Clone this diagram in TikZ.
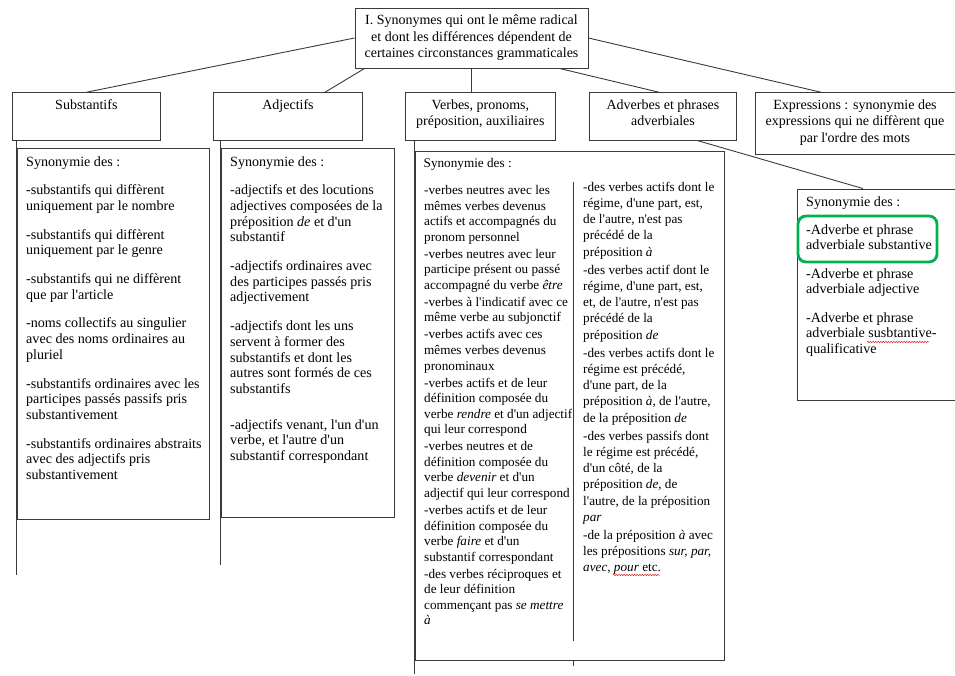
\documentclass[tikz,border=0pt]{standalone}
\usepackage{fontspec}
\setmainfont{Liberation Serif}[Ligatures=TeXOff]
\usetikzlibrary{calc,decorations.pathmorphing}
\definecolor{framegray}{HTML}{3A3A3A}
\definecolor{markgreen}{HTML}{00B050}
\definecolor{spellred}{HTML}{E0201B}
\begin{document}
% multi-line nodes are placed by the baseline of their last line (anchor=base)
\begin{tikzpicture}[x=1pt,y=-1pt,
  frame/.style={draw=framegray, line width=0.9pt, inner sep=0pt},
  rule/.style={draw=framegray, line width=0.9pt},
  headtext/.style={inner sep=0pt, align=center, font=\fontsize{14}{16.6}\selectfont},
  bodytext/.style={inner sep=0pt, align=left, anchor=base west, font=\fontsize{14.1}{15.7}\selectfont},
  verbtext/.style={inner sep=0pt, align=left, anchor=base west, font=\fontsize{13.2}{15.55}\selectfont},
  verbtextb/.style={verbtext, font=\fontsize{13.2}{16.3}\selectfont},
  wavy/.style={draw=spellred, line width=0.5pt, decorate, decoration={snake, amplitude=0.7pt, segment length=2.6pt}},
]
\useasboundingbox (0,0) rectangle (955,675);

% title box
\node[frame, headtext, minimum width=233pt, minimum height=60pt] (top) at (471.5,38)
  {I. Synonymes qui ont le même radical\\et dont les différences dépendent de\\certaines circonstances grammaticales};

% category headers
\node[frame, minimum width=148.7pt, minimum height=47.3pt] (subst) at (86.35,116.35) {};
\node[headtext, anchor=base] (substT) at (86.35,109.3) {Substantifs};
\node[frame, minimum width=149.4pt, minimum height=47.3pt] (adj) at (288,116.35) {};
\node[headtext, anchor=base] (adjT) at (288,109.3) {Adjectifs};
\node[frame, minimum width=149.3pt, minimum height=47.3pt] (verb) at (480.35,116.35) {};
\node[headtext, anchor=base] (verbT) at (480.35,125.9) {Verbes, pronoms,\\préposition, auxiliaires};
\node[frame, minimum width=147.4pt, minimum height=47.3pt] (adv) at (663,116.35) {};
\node[headtext, anchor=base] (advT) at (663,125.9) {Adverbes et phrases\\adverbiales};
\node[frame, minimum width=202pt, minimum height=61.8pt] (expr) at (856,123.6) {};
\node[headtext, anchor=base] (exprT) at (855,142.5) {Expressions : synonymie des\\expressions qui ne diffèrent que\\par l'ordre des mots};

% content boxes
\node[frame, minimum width=191.5pt, minimum height=370.7pt] (substC) at (113.25,333.65) {};
\node[frame, minimum width=172.3pt, minimum height=368.7pt] (adjC) at (307.85,332.65) {};
\node[frame, minimum width=309pt, minimum height=508.3pt] (verbC) at (569.5,405.85) {};
\node[frame, minimum width=160pt, minimum height=211pt] (advC) at (877,294.5) {};

% connectors from the title
\draw[rule] (top.west) -- (subst.north);
\draw[rule] ([xshift=10pt]top.south west) -- ([xshift=37pt]adj.north);
\draw[rule] (top.south) -- (top.south |- verb.north);
\draw[rule] ([xshift=-29pt]top.south east) -- ([xshift=-4pt]adv.north);
\draw[rule] (top.east) -- ([xshift=-35pt]expr.north);
\draw[rule] ([xshift=34pt]adv.south) -- ([xshift=-14pt]advC.north);

% stems below the headers
\coordinate (substEnd) at (16,575);
\draw[rule] (subst.south west -| substEnd) -- (substEnd);
\coordinate (adjEnd) at (220.7,565);
\draw[rule] (adj.south west -| adjEnd) -- (adjEnd);
\coordinate (verbEnd) at (414,674);
\draw[rule] (verb.south west -| verbEnd) -- (verbEnd);

% divider between the two verb columns
\coordinate (divTop) at (573,182);
\coordinate (divBot) at (573,641);
\draw[rule] (divTop) -- (divBot);
\coordinate (tickEnd) at (573,666);
\draw[rule] (verbC.south -| divTop) -- (tickEnd);

% texts
\node[bodytext] (substL) at (26,479.5) {Synonymie des :\\[13pt]
-substantifs qui diffèrent\\uniquement par le nombre\\[13pt]
-substantifs qui diffèrent\\uniquement par le genre\\[13pt]
-substantifs qui ne diffèrent\\que par l'article\\[13pt]
-noms collectifs au singulier\\avec des noms ordinaires au\\pluriel\\[13pt]
-substantifs ordinaires avec les\\participes passés passifs pris\\substantivement\\[13pt]
-substantifs ordinaires abstraits\\avec des adjectifs pris\\substantivement};

\node[bodytext] (adjL) at (230,460.5) {Synonymie des :\\[13pt]
-adjectifs et des locutions\\adjectives composées de la\\préposition \textit{de} et d'un\\substantif\\[13pt]
-adjectifs ordinaires avec\\des participes passés pris\\adjectivement\\[13pt]
-adjectifs dont les uns\\servent à former des\\substantifs et dont les\\autres sont formés de ces\\substantifs\\[20pt]
-adjectifs venant, l'un d'un\\verbe, et l'autre d'un\\substantif correspondant};

\node[verbtext] (verbS) at (423.5,167.5) {Synonymie des :};
\node[verbtext] (verbL) at (424,624.85) {-verbes neutres avec les\\mêmes verbes devenus\\actifs et accompagnés du\\pronom personnel\\[1.5pt]
-verbes neutres avec leur\\participe présent ou passé\\accompagné du verbe \textit{être}\\[1.5pt]
-verbes à l'indicatif avec ce\\même verbe au subjonctif\\[1.5pt]
-verbes actifs avec ces\\mêmes verbes devenus\\pronominaux\\[1.5pt]
-verbes actifs et de leur\\définition composée du\\verbe \textit{rendre} et d'un adjectif\\qui leur correspond\\[1.5pt]
-verbes neutres et de\\définition composée du\\verbe \textit{devenir} et d'un\\adjectif qui leur correspond\\[1.5pt]
-verbes actifs et de leur\\définition composée du\\verbe \textit{faire} et d'un\\substantif correspondant\\[1.5pt]
-des verbes réciproques et\\de leur définition\\commençant pas \textit{se mettre}\\\textit{à}};

\node[verbtextb] (verbR) at (583,571.9) {-des verbes actifs dont le\\régime, d'une part, est,\\de l'autre, n'est pas\\précédé de la\\préposition \textit{à}\\[1.5pt]
-des verbes actif dont le\\régime, d'une part, est,\\et, de l'autre, n'est pas\\précédé de la\\préposition \textit{de}\\[1.5pt]
-des verbes actifs dont le\\régime est précédé,\\d'une part, de la\\préposition \textit{à}, de l'autre,\\de la préposition \textit{de}\\[1.5pt]
-des verbes passifs dont\\le régime est précédé,\\d'un côté, de la\\préposition \textit{de}, de\\l'autre, de la préposition\\\textit{par}\\[1.5pt]
-de la préposition \textit{à} avec\\les prépositions \textit{sur, par,}\\\textit{avec, pour} etc.};

\node[bodytext] (advL) at (806,353.4) {Synonymie des :\\[12.5pt]
-Adverbe et phrase\\adverbiale substantive\\[12.5pt]
-Adverbe et phrase\\adverbiale adjective\\[12.5pt]
-Adverbe et phrase\\adverbiale susbtantive-\\qualificative};

% highlighted item
\node[draw=markgreen, line width=2.8pt, rounded corners=8pt, inner sep=0pt,
  minimum width=139pt, minimum height=46pt] (mark) at (867.5,239) {};

% spell-check underlines
\draw[wavy] (867,342) -- (929,342);
\draw[wavy] (613,575) -- (660,575);
\end{tikzpicture}
\end{document}
